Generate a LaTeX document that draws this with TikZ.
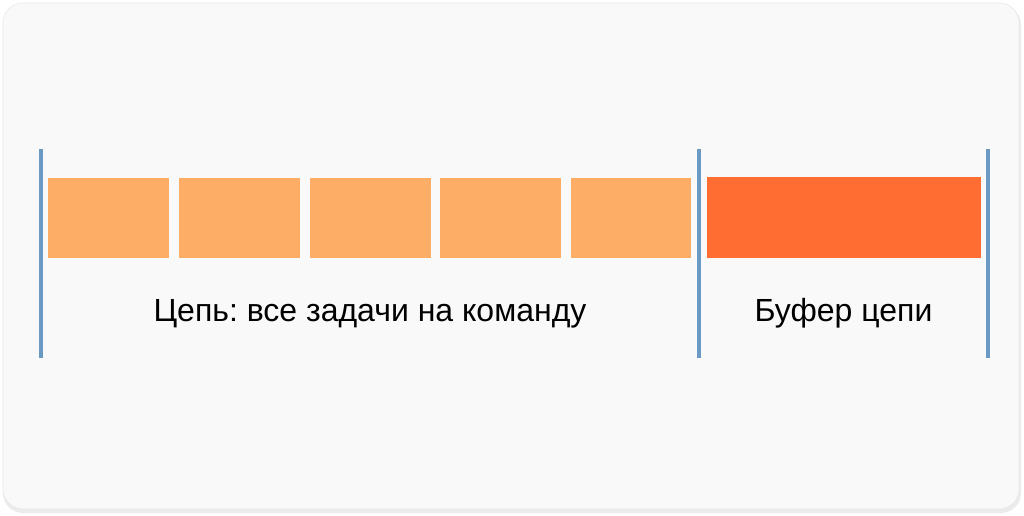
\documentclass[tikz,border=0pt]{standalone}
\usepackage{fontspec}
\setmainfont{Liberation Sans}
\frenchspacing
\definecolor{cardbg}{HTML}{F9F9F9}
\definecolor{cardedge}{HTML}{E8E8E8}
\definecolor{lightor}{HTML}{FDAD65}
\definecolor{darkor}{HTML}{FF6D33}
\definecolor{bar}{HTML}{6A9AC4}
\tikzset{
  task/.style={fill=lightor, draw=none},
  buffer/.style={fill=darkor, draw=none},
  divider/.style={draw=bar, line width=4pt},
  caption/.style={font=\fontsize{32}{38}\selectfont, text=black, anchor=base, inner sep=0pt}
}
\begin{document}
\begin{tikzpicture}[x=1pt,y=-1pt]
\useasboundingbox (0,0) rectangle (1024,515);
\fill[white] (0,0) rectangle (1024,515);
% shadow
\fill[black!18, rounded corners=20pt] (4,6) rectangle (1020,512);
\fill[black!8, rounded corners=20pt] (3,5) rectangle (1021,513);
% card
\filldraw[fill=cardbg, draw=cardedge, line width=0.6pt, rounded corners=20pt] (3,3) rectangle (1019,509);
% tasks
\fill[task] (48,178) rectangle (169,258);
\fill[task] (179,178) rectangle (299.5,258);
\fill[task] (310,178) rectangle (430.5,258);
\fill[task] (440,178) rectangle (561,258);
\fill[task] (571,178) rectangle (691,258);
\fill[buffer] (707,177) rectangle (981,258);
% dividers
\coordinate (l1t) at (41,149); \coordinate (l1b) at (41,358);
\coordinate (l2t) at (699.3,149); \coordinate (l2b) at (699.3,358);
\coordinate (l3t) at (988.3,149); \coordinate (l3b) at (988.3,358);
\draw[divider] (l1t) -- (l1b);
\draw[divider] (l2t) -- (l2b);
\draw[divider] (l3t) -- (l3b);
% captions
\node[caption] (chain) at (370,321) {Цепь: все задачи на команду};
\node[caption] (buf) at (843.5,321) {Буфер цепи};
\end{tikzpicture}
\end{document}
